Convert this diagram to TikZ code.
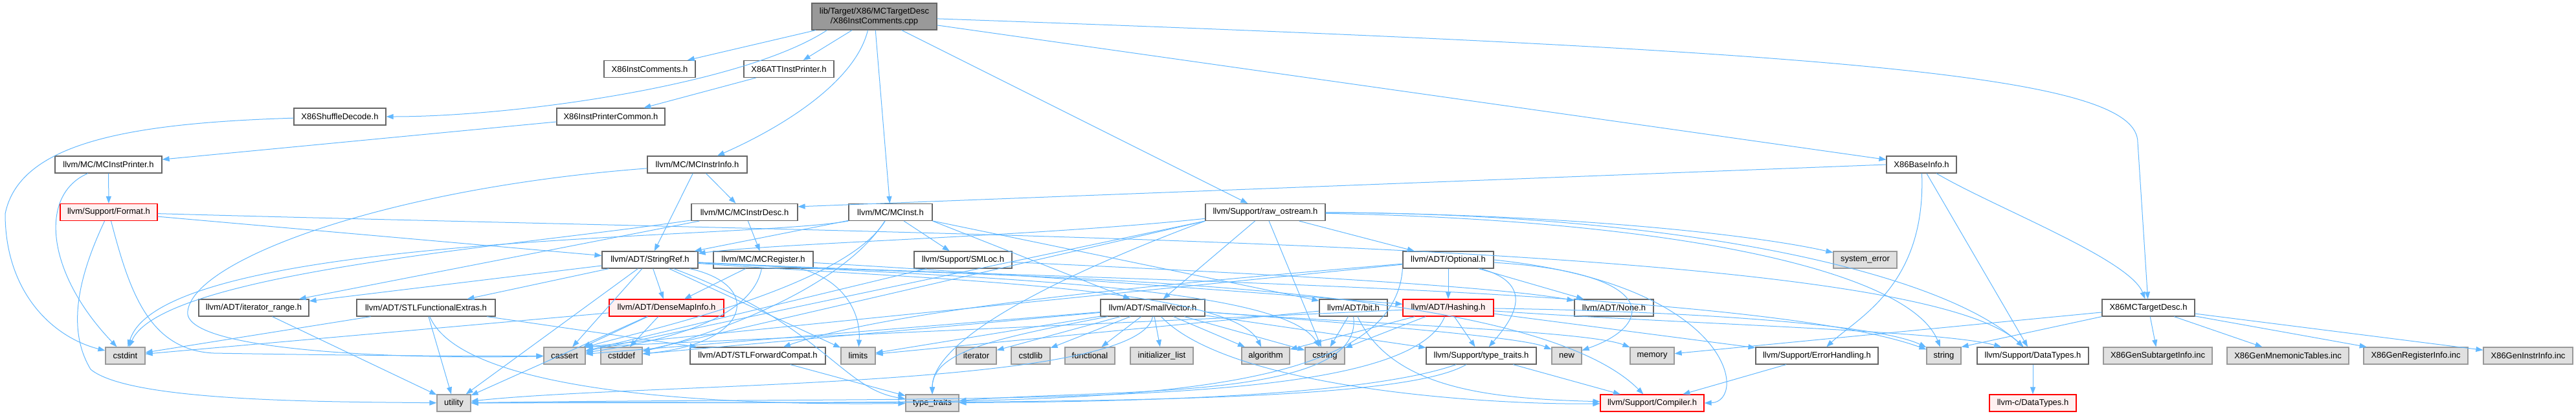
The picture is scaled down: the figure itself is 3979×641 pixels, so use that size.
\documentclass[tikz,border=0pt]{standalone}
\usepackage{fontspec}
\setmainfont{Liberation Sans}
\usepackage{tikz}
\usetikzlibrary{arrows.meta}
\definecolor{edgeblue}{HTML}{63B8FF}
\definecolor{boxline}{HTML}{666666}
\definecolor{rootfill}{HTML}{999999}
\definecolor{sysfill}{HTML}{E0E0E0}
\definecolor{sysline}{HTML}{999999}
\definecolor{trfill}{HTML}{FFF0F0}

\begin{document}
\begin{tikzpicture}[x=1pt, y=-1pt,
    file/.style={draw=boxline, fill=white, line width=1.2pt, minimum height=26pt, inner xsep=3pt, inner ysep=0pt, font=\fontsize{13}{15}\selectfont},
    rootfile/.style={file, fill=rootfill, minimum height=41pt, align=center},
    sysfile/.style={file, draw=sysline, fill=sysfill},
    trfile/.style={file, draw=red, fill=trfill},
    dep/.style={draw=edgeblue, line width=1pt, -{Triangle[length=11pt, width=8pt]}}
  ]
  \useasboundingbox (0,0) rectangle (3979,641);

  % Nodes
  \node[rootfile, minimum width=193] (root) at (1350.5,25.5) {lib/Target/X86/MCTargetDesc\\/X86InstComments.cpp};
  \node[file, minimum width=141] (ic) at (1003.5,106.5) {X86InstComments.h};
  \node[file, minimum width=139] (att) at (1218.5,106.5) {X86ATTInstPrinter.h};
  \node[file, minimum width=142] (shuf) at (525,180) {X86ShuffleDecode.h};
  \node[file, minimum width=167] (ipc) at (943.5,180) {X86InstPrinterCommon.h};
  \node[file, minimum width=165] (mcip) at (167.5,254) {llvm/MC/MCInstPrinter.h};
  \node[file, minimum width=154] (mcii) at (1077,254) {llvm/MC/MCInstrInfo.h};
  \node[file, minimum width=108] (base) at (2968,254) {X86BaseInfo.h};
  \node[trfile, minimum width=150] (fmt) at (168,327.5) {llvm/Support/Format.h};
  \node[file, minimum width=164] (mcid) at (1150,327.5) {llvm/MC/MCInstrDesc.h};
  \node[file, minimum width=129] (mcinst) at (1375.5,327.5) {llvm/MC/MCInst.h};
  \node[file, minimum width=185] (rawos) at (1954.5,327.5) {llvm/Support/raw\_ostream.h};
  \node[file, minimum width=148] (sref) at (1004,401) {llvm/ADT/StringRef.h};
  \node[file, minimum width=154] (mcreg) at (1179,401) {llvm/MC/MCRegister.h};
  \node[file, minimum width=151] (smloc) at (1487.5,401) {llvm/Support/SMLoc.h};
  \node[file, minimum width=140] (opt) at (2237,401) {llvm/ADT/Optional.h};
  \node[sysfile, minimum width=98] (syserr) at (2881,401) {system\_error};
  \node[file, minimum width=170] (itrange) at (392,475) {llvm/ADT/iterator\_range.h};
  \node[file, minimum width=214] (sfe) at (658,475) {llvm/ADT/STLFunctionalExtras.h};
  \node[trfile, minimum width=177] (dmi) at (1029.5,475) {llvm/ADT/DenseMapInfo.h};
  \node[file, minimum width=161] (svec) at (1780.5,475) {llvm/ADT/SmallVector.h};
  \node[file, minimum width=105] (bit) at (2090.5,475) {llvm/ADT/bit.h};
  \node[trfile, minimum width=140] (hash) at (2237,475) {llvm/ADT/Hashing.h};
  \node[file, minimum width=122] (none) at (2493,475) {llvm/ADT/None.h};
  \node[file, minimum width=143] (tdesc) at (3318.5,475) {X86MCTargetDesc.h};

  \node[sysfile, minimum width=61] (cstdint) at (193.5,549) {cstdint};
  \node[sysfile, minimum width=64] (cassert) at (872,549) {cassert};
  \node[sysfile, minimum width=64] (cstddef) at (960,549) {cstddef};
  \node[file, minimum width=209] (sfc) at (1170.5,549) {llvm/ADT/STLForwardCompat.h};
  \node[sysfile, minimum width=53] (limits) at (1325.5,549) {limits};
  \node[sysfile, minimum width=62] (iterator) at (1508,549) {iterator};
  \node[sysfile, minimum width=60] (cstdlib) at (1592,549) {cstdlib};
  \node[sysfile, minimum width=77] (functional) at (1683.5,549) {functional};
  \node[sysfile, minimum width=97] (initlist) at (1794.5,549) {initializer\_list};
  \node[sysfile, minimum width=74] (algorithm) at (1955,549) {algorithm};
  \node[sysfile, minimum width=61] (cstring) at (2046.5,549) {cstring};
  \node[file, minimum width=170] (lltt) at (2288,549) {llvm/Support/type\_traits.h};
  \node[sysfile, minimum width=46] (new) at (2420,549) {new};
  \node[sysfile, minimum width=68] (memory) at (2552,549) {memory};
  \node[file, minimum width=189] (errh) at (2806.5,549) {llvm/Support/ErrorHandling.h};
  \node[sysfile, minimum width=53] (string) at (3002.5,549) {string};
  \node[file, minimum width=172] (dtypes) at (3140,549) {llvm/Support/DataTypes.h};
  \node[sysfile, minimum width=168] (gsub) at (3333,549) {X86GenSubtargetInfo.inc};
  \node[sysfile, minimum width=188] (gmne) at (3534,549) {X86GenMnemonicTables.inc};
  \node[sysfile, minimum width=161] (greg) at (3731.5,549) {X86GenRegisterInfo.inc};
  \node[sysfile, minimum width=138] (ginstr) at (3905,549) {X86GenInstrInfo.inc};

  \node[sysfile, minimum width=52] (utility) at (701,622) {utility};
  \node[sysfile, minimum width=82] (ttraits) at (1440,622) {type\_traits};
  \node[trfile, minimum width=160] (compiler) at (2552,622) {llvm/Support/Compiler.h};
  \node[trfile, minimum width=134] (lldtypes) at (3140,622) {llvm-c/DataTypes.h};

  % Edges from the source file
  \draw[dep] (root) -- (ic);
  \draw[dep] (root) -- (att);
  \draw[dep] ([xshift=-73pt]root.south) .. controls (1150,130) and (800,180) .. (shuf);
  \draw[dep] ([xshift=-10pt]root.south) .. controls (1320,130) and (1200,200) .. (mcii);
  \draw[dep] (root) -- (mcinst);
  \draw[dep] (root) -- (rawos);
  \draw[dep] (root) -- (base);
  \draw[dep] (root) .. controls (2900,80) and (3302,120) .. (3302,220) -- (tdesc);

  % X86 printer chain
  \draw[dep] (att) -- (ipc);
  \draw[dep] (ipc) -- (mcip);
  \draw[dep] (shuf) .. controls (200,190) and (30,220) .. (8,330) .. controls (8,450) and (80,520) .. (cstdint);
  \draw[dep] (mcip) -- (fmt);
  \draw[dep] (mcip) .. controls (60,300) and (70,420) .. (cstdint);

  % Format.h
  \draw[dep] (fmt) -- (sref);
  \draw[dep] (fmt) .. controls (1500,365) and (2950,370) .. (dtypes);
  \draw[dep] (fmt) .. controls (200,450) and (230,540) .. (330,545) .. controls (500,548) and (700,550) .. (cassert);
  \draw[dep] (fmt) .. controls (110,450) and (110,520) .. (140,570) .. controls (200,620) and (500,620) .. (utility);

  % MCInstrInfo.h and MCInstrDesc.h
  \draw[dep] (mcii) -- (sref);
  \draw[dep] (mcii) -- (mcid);
  \draw[dep] (mcii) .. controls (600,290) and (300,400) .. (290,480) .. controls (280,540) and (600,555) .. (cassert);
  \draw[dep] (mcid) -- (mcreg);
  \draw[dep] (mcid) -- (itrange);
  \draw[dep] (mcid) .. controls (800,380) and (250,420) .. (cstdint);

  % X86BaseInfo.h and X86MCTargetDesc.h
  \draw[dep] (base.west) -- ([yshift=-5pt]mcid.north east);
  \draw[dep] (base) .. controls (2975,440) and (2870,490) .. (errh);
  \draw[dep] (base) -- (dtypes);
  \draw[dep] (base) .. controls (3080,320) and (3290,400) .. (tdesc);
  \draw[dep] (tdesc) -- (memory);
  \draw[dep] (tdesc.south west) -- (string.north east);
  \draw[dep] (tdesc) -- (gsub);
  \draw[dep] (tdesc) -- (gmne);
  \draw[dep] (tdesc) -- (greg);
  \draw[dep] (tdesc) -- (ginstr);

  % MCInst.h
  \draw[dep] (mcinst) -- (sref);
  \draw[dep] (mcinst) -- (smloc);
  \draw[dep] (mcinst.south east) -- (svec);
  \draw[dep] (mcinst) -- (bit);
  \draw[dep] (mcinst) .. controls (1300,450) and (950,520) .. (cassert);
  \draw[dep] (mcinst) .. controls (1290,460) and (1050,530) .. (cstddef);
  \draw[dep] (mcinst.south west) .. controls (1150,370) and (250,360) .. (cstdint);

  % raw_ostream.h
  \draw[dep] (rawos) -- (svec);
  \draw[dep] (rawos) .. controls (1600,365) and (1200,375) .. (sref);
  \draw[dep] (rawos) -- (opt);
  \draw[dep] (rawos) .. controls (2600,330) and (3000,420) .. (dtypes);
  \draw[dep] (rawos.south west) -- (cassert);
  \draw[dep] (rawos.south west) -- (cstddef);
  \draw[dep] (rawos) -- (cstring);
  \draw[dep] (rawos) .. controls (2600,340) and (2950,420) .. (string);
  \draw[dep] (rawos) .. controls (2400,330) and (2700,360) .. (syserr);
  \draw[dep] (rawos.south west) .. controls (1650,420) and (1440,520) .. (ttraits);

  % StringRef.h
  \draw[dep] (sref) -- (dmi);
  \draw[dep] (sref) -- (sfe);
  \draw[dep] (sref) -- (itrange);
  \draw[dep] (sref) .. controls (1500,430) and (2350,420) .. (compiler);
  \draw[dep] (sref) .. controls (1400,430) and (1900,440) .. (algorithm);
  \draw[dep] (sref) -- (cassert);
  \draw[dep] (sref) .. controls (1180,440) and (1160,530) .. (cstddef);
  \draw[dep] (sref) .. controls (1500,428) and (1980,440) .. (cstring);
  \draw[dep] (sref) -- (limits);
  \draw[dep] (sref) .. controls (1600,432) and (2700,440) .. (string);
  \draw[dep] (sref) .. controls (1270,500) and (1300,600) .. (ttraits);
  \draw[dep] (sref) -- (utility);

  % MCRegister.h, SMLoc.h
  \draw[dep] (mcreg) -- (dmi);
  \draw[dep] (mcreg) .. controls (1600,425) and (2050,460) .. (hash);
  \draw[dep] (mcreg) .. controls (1160,500) and (1000,530) .. (cassert);
  \draw[dep] (mcreg) .. controls (1300,430) and (1330,480) .. (limits);
  \draw[dep] (smloc) .. controls (1900,420) and (2300,440) .. (none);
  \draw[dep] (smloc) -- (cassert);

  % Optional.h
  \draw[dep] (opt) -- (hash);
  \draw[dep] (opt) -- (none);
  \draw[dep] (opt) .. controls (1900,430) and (1400,470) .. (sfc);
  \draw[dep] (opt.east) .. controls (2680,440) and (2700,620) .. (compiler.east);
  \draw[dep] (opt) .. controls (2380,440) and (2330,500) .. (lltt);
  \draw[dep] (opt) -- (cassert.north east);
  \draw[dep] (opt) .. controls (2560,420) and (2560,500) .. (new);
  \draw[dep] (opt.south west) .. controls (2150,660) and (1500,615) .. (utility);

  % DenseMapInfo.h, STLFunctionalExtras.h, iterator_range.h, STLForwardCompat.h
  \draw[dep] (dmi) -- (cstdint);
  \draw[dep] (dmi) -- (utility);
  \draw[dep] (dmi) -- (cassert);
  \draw[dep] (dmi) -- (cstddef);
  \draw[dep] (sfe) -- (sfc);
  \draw[dep] (sfe) -- (cstdint);
  \draw[dep] (sfe) .. controls (720,620) and (1200,625) .. (ttraits);
  \draw[dep] (sfe) -- (utility);
  \draw[dep] (itrange) -- (utility);
  \draw[dep] (sfc) -- (ttraits);

  % SmallVector.h
  \draw[dep] (svec) .. controls (1900,600) and (2300,625) .. (compiler);
  \draw[dep] (svec) -- (lltt);
  \draw[dep] (svec) -- (algorithm);
  \draw[dep] (svec) -- (cassert);
  \draw[dep] (svec) -- (cstddef);
  \draw[dep] (svec) -- (cstdlib);
  \draw[dep] (svec) -- (cstring);
  \draw[dep] (svec) -- (functional);
  \draw[dep] (svec) -- (initlist);
  \draw[dep] (svec) -- (iterator);
  \draw[dep] (svec) -- (limits);
  \draw[dep] (svec) .. controls (2100,500) and (2450,510) .. (memory);
  \draw[dep] (svec) .. controls (2100,500) and (2350,520) .. (new);
  \draw[dep] (svec) .. controls (1550,520) and (1440,540) .. (ttraits);
  \draw[dep] (svec.south) .. controls (1760,600) and (1000,590) .. (utility);

  % bit.h
  \draw[dep] (bit) .. controls (2150,600) and (2300,615) .. (compiler);
  \draw[dep] (bit) -- (cstring);
  \draw[dep] (bit) -- (limits);
  \draw[dep] (bit.south) .. controls (2110,620) and (1700,600) .. (ttraits);

  % Hashing.h
  \draw[dep] (hash) .. controls (2600,500) and (3000,510) .. (dtypes);
  \draw[dep] (hash) -- (errh);
  \draw[dep] (hash) -- (lltt);
  \draw[dep] (hash) -- (algorithm);
  \draw[dep] (hash) -- (cassert.north east);
  \draw[dep] (hash) -- (cstring);
  \draw[dep] (hash) .. controls (2600,480) and (2900,500) .. (string);
  \draw[dep] (hash) .. controls (2170,640) and (1500,610) .. (utility);

  % support headers
  \draw[dep] (lltt) .. controls (2100,615) and (1700,620) .. (ttraits);
  \draw[dep] (lltt) .. controls (2150,630) and (1500,620) .. (utility);
  \draw[dep] (lltt) -- (compiler);
  \draw[dep] (errh) -- (compiler);
  \draw[dep] (dtypes) -- (lldtypes);
\end{tikzpicture}
\end{document}
